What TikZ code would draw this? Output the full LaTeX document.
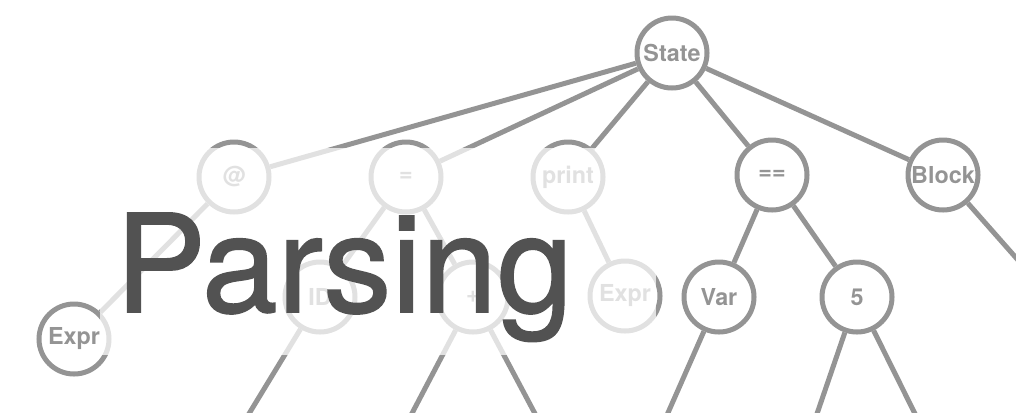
\documentclass[tikz,border=0pt]{standalone}
\usepackage{fontspec}
\setmainfont{TeX Gyre Heros}
\newfontface\titleface{TeX Gyre Heros}[FakeBold=1.2]
\definecolor{treegray}{HTML}{949494}
\definecolor{inkgray}{HTML}{525252}

\begin{document}
\begin{tikzpicture}[x=0.75pt, y=-0.75pt,
    tnode/.style={circle, draw=treegray, line width=3.75pt, minimum size=52.5pt, inner sep=0pt,
        text=treegray, font=\fontsize{17.5}{19}\selectfont\bfseries},
    tedge/.style={draw=treegray, line width=3.75pt}]
    \useasboundingbox (0,0) rectangle (1016,412);
    \clip (0,0) rectangle (1016,412);

    % the tree
    \node[tnode] (state) at (672,53) {State};
    \node[tnode] (at) at (234,177) {@};
    \node[tnode] (assign) at (406,177) {=};
    \node[tnode] (print) at (568,177) {print};
    \node[tnode] (eq) at (772,175) {==};
    \node[tnode] (block) at (943,175) {Block};
    \node[tnode] (exprA) at (74,339) {Expr};
    \node[tnode] (id) at (320,297) {ID};
    \node[tnode] (plus) at (473,297) {+};
    \node[tnode] (exprB) at (625,296) {Expr};
    \node[tnode] (var) at (719,297) {Var};
    \node[tnode] (five) at (857,297) {5};

    % children cut off by the border
    \coordinate (idkid) at (233,440);
    \coordinate (pluskidA) at (398,440);
    \coordinate (pluskidB) at (549,440);
    \coordinate (varkid) at (656,440);
    \coordinate (fivekidA) at (808,440);
    \coordinate (fivekidB) at (928,440);
    \coordinate (blockkid) at (1040,285);

    \draw[tedge] (state) -- (at) (state) -- (assign) (state) -- (print)
        (state) -- (eq) (state) -- (block)
        (at) -- (exprA) (assign) -- (id) (assign) -- (plus)
        (print) -- (exprB) (eq) -- (var) (eq) -- (five);
    \draw[tedge] (id) -- (idkid) (plus) -- (pluskidA) (plus) -- (pluskidB)
        (var) -- (varkid) (five) -- (fivekidA) (five) -- (fivekidB)
        (block) -- (blockkid);

    % faded band behind the title
    \fill[white, opacity=0.72] (100,148) rectangle (656,355);
    \node[anchor=base west, inner sep=0pt, text=inkgray, font=\fontsize{102}{102}\titleface] (title) at (115,312) {Parsing};
\end{tikzpicture}
\end{document}
